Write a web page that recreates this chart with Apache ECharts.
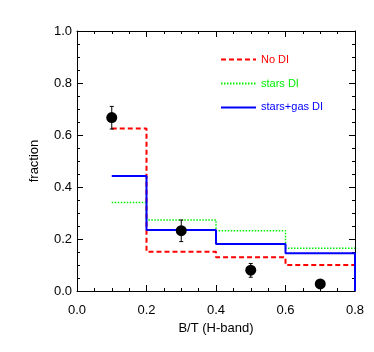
<!DOCTYPE html>
<html><head><meta charset="utf-8">
<script src="https://cdn.jsdelivr.net/npm/echarts@6/dist/echarts.min.js"></script>
<style>html,body{margin:0;padding:0;background:#fff}#c{width:374px;height:352px}</style>
</head><body><div id="c"></div>
<script>
const binEdges = [0.1, 0.2, 0.4, 0.6, 0.8];
const noDI = [0.625, 0.151, 0.130, 0.100];
const starsDI = [0.340, 0.273, 0.232, 0.164];
const starsGasDI = [0.442, 0.235, 0.181, 0.145];
const obsX = [0.1, 0.3, 0.5, 0.7];
const obsY = [0.667, 0.232, 0.080, 0.027];
const obsLo = [0.623, 0.190, 0.053, 0.014];
const obsHi = [0.710, 0.273, 0.106, 0.040];
const xTicks = [0.0, 0.2, 0.4, 0.6, 0.8];
const yTicks = [0.0, 0.2, 0.4, 0.6, 0.8, 1.0];

function stepData(vals, dropEnd) {
  const d = [];
  for (let i = 0; i < vals.length; i++) {
    d.push([binEdges[i], vals[i]]);
    d.push([binEdges[i + 1], vals[i]]);
  }
  if (dropEnd) d.push([binEdges[binEdges.length - 1], 0]);
  return d;
}
const font = 'Liberation Sans';
const chart = echarts.init(document.getElementById('c'));
const axisCommon = {
  type: 'value',
  axisLine: { show: true, onZero: false, lineStyle: { color: '#000', width: 1 } },
  axisTick: { show: true, inside: true, length: 6, lineStyle: { color: '#000' } },
  minorTick: { show: true, splitNumber: 4, length: 3, lineStyle: { color: '#000' } },
  splitLine: { show: false },
  minorSplitLine: { show: false }
};
chart.setOption({
  animation: false,
  textStyle: { fontFamily: font },
  grid: { left: 77, right: 19, top: 31, bottom: 61 },
  legend: {
    orient: 'vertical', left: 215, top: 49, itemWidth: 35, itemHeight: 14, itemGap: 12.7,
    itemStyle: { opacity: 0 },
    textStyle: { fontSize: 11, fontFamily: font },
    data: [
      { name: 'No DI', textStyle: { color: '#ff0000' } },
      { name: 'stars DI', textStyle: { color: '#00ee00' } },
      { name: 'stars+gas DI', textStyle: { color: '#0000ff' } }
    ]
  },
  xAxis: [
    Object.assign({}, axisCommon, { min: 0, max: 0.8, interval: 0.2, position: 'bottom',
      name: 'B/T (H-band)', nameLocation: 'middle', nameGap: 31,
      nameTextStyle: { fontSize: 13, color: '#000', fontFamily: font },
      axisLabel: { fontSize: 13, color: '#000', margin: 13, formatter: v => v.toFixed(1) } }),
    Object.assign({}, axisCommon, { min: 0, max: 0.8, interval: 0.2, position: 'top', axisLabel: { show: false } })
  ],
  yAxis: [
    Object.assign({}, axisCommon, { min: 0, max: 1, interval: 0.2, position: 'left',
      name: 'fraction', nameLocation: 'middle', nameGap: 36,
      nameTextStyle: { fontSize: 13, color: '#000', fontFamily: font },
      axisLabel: { fontSize: 13, color: '#000', margin: 5, formatter: v => v.toFixed(1) } }),
    Object.assign({}, axisCommon, { min: 0, max: 1, interval: 0.2, position: 'right', axisLabel: { show: false } })
  ],
  series: [
    { name: 'No DI', type: 'line', symbol: 'none', data: stepData(noDI, false),
      lineStyle: { color: '#ff0000', width: 2, type: [5, 3] }, itemStyle: { color: '#ff0000' } },
    { name: 'stars DI', type: 'line', symbol: 'none', data: stepData(starsDI, false),
      lineStyle: { color: '#00ee00', width: 1.5, type: [1.5, 1.5] }, itemStyle: { color: '#00ee00' } },
    { name: 'stars+gas DI', type: 'line', symbol: 'none', data: stepData(starsGasDI, true),
      lineStyle: { color: '#0000ff', width: 2 }, itemStyle: { color: '#0000ff' } },
    { type: 'custom', data: obsX.map((x, i) => [x, obsLo[i], obsHi[i]]),
      renderItem: function (params, api) {
        const lo = api.coord([api.value(0), api.value(1)]);
        const hi = api.coord([api.value(0), api.value(2)]);
        return { type: 'group', children: [
          { type: 'line', shape: { x1: lo[0], y1: lo[1], x2: hi[0], y2: hi[1] }, style: { stroke: '#000', lineWidth: 1 } },
          { type: 'line', shape: { x1: lo[0] - 2, y1: lo[1], x2: lo[0] + 2, y2: lo[1] }, style: { stroke: '#000', lineWidth: 1 } },
          { type: 'line', shape: { x1: hi[0] - 2, y1: hi[1], x2: hi[0] + 2, y2: hi[1] }, style: { stroke: '#000', lineWidth: 1 } }
        ] };
      }, z: 5 },
    { type: 'scatter', data: obsX.map((x, i) => [x, obsY[i]]), symbolSize: 11,
      itemStyle: { color: '#000', opacity: 1 }, z: 6 }
  ]
});
</script></body></html>
